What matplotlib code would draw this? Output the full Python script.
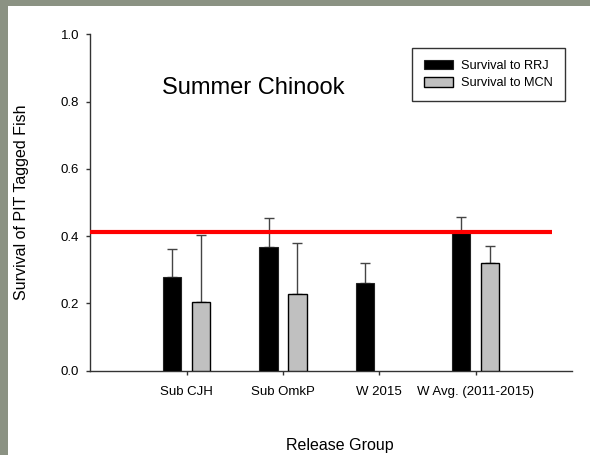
import numpy as np
import matplotlib
matplotlib.use("Agg")
import matplotlib.pyplot as plt
from matplotlib.patches import Rectangle

plt.rcParams["font.family"] = ["Liberation Sans", "DejaVu Sans"]

# Release groups and survival estimates
groups = ["Sub CJH", "Sub OmkP", "W 2015", "W Avg. (2011-2015)"]
rrj = [0.280, 0.369, 0.261, 0.410]
rrj_err = [0.083, 0.085, 0.058, 0.048]
mcn = [0.204, 0.228, np.nan, 0.320]
mcn_err = [0.198, 0.152, np.nan, 0.050]
reference_level = 0.413
y_ticks = [0.0, 0.2, 0.4, 0.6, 0.8, 1.0]

fig = plt.figure(figsize=(5.9, 4.55), dpi=100)
fig.patch.set_facecolor("white")

# slide frame strips along the top and left edges
frame_col = "#8b9283"
fig.patches.append(Rectangle((0, 0), 8 / 590, 1, transform=fig.transFigure,
                             facecolor=frame_col, edgecolor="none", zorder=0))
fig.patches.append(Rectangle((0, 1 - 6 / 455), 1, 6 / 455, transform=fig.transFigure,
                             facecolor=frame_col, edgecolor="none", zorder=0))

ax = fig.add_axes([0.153, 0.1853, 0.8165, 0.7393])
ax.set_facecolor("white")

x = np.arange(1, len(groups) + 1)
width = 0.19
off = 0.15

b1 = ax.bar(x - off, rrj, width, color="black", edgecolor="#222222",
            linewidth=0.8, zorder=3, label="Survival to RRJ")
b2 = ax.bar(x + off, mcn, width, color="#c0c0c0", edgecolor="black",
            linewidth=1.0, zorder=3, label="Survival to MCN")

err_style = dict(fmt="none", ecolor="#444444", elinewidth=1.0, capsize=3.6,
                 capthick=1.0, zorder=2)
ax.errorbar(x - off, rrj, yerr=[np.zeros(len(rrj)), rrj_err], **err_style)
ax.errorbar(x + off, mcn, yerr=[np.zeros(len(mcn)), mcn_err], **err_style)

ax.plot([0, 4.79], [reference_level, reference_level], color="#ff0000",
        linewidth=3.0, solid_capstyle="butt", zorder=4)

ax.set_xlim(0, 5)
ax.set_ylim(0, 1.0)
ax.set_xticks(x)
ax.set_xticklabels(groups, fontsize=9.5)
ax.set_yticks(y_ticks)
ax.set_yticklabels([f"{v:.1f}" for v in y_ticks], fontsize=9.5)

for side in ("top", "right"):
    ax.spines[side].set_visible(False)
for side in ("left", "bottom"):
    ax.spines[side].set_color("#333333")
    ax.spines[side].set_linewidth(1.0)
ax.tick_params(axis="both", direction="out", length=3, width=1.0,
               color="#333333", labelcolor="black")
ax.tick_params(axis="x", pad=8)
ax.tick_params(axis="y", pad=5)

ax.text(0.148, 0.822, "Summer Chinook", transform=ax.transAxes,
        fontsize=17, va="baseline", ha="left")

leg = ax.legend(handles=[b1, b2], loc="upper left",
                bbox_to_anchor=(0.667, 0.96), frameon=True, fancybox=False,
                edgecolor="black", fontsize=9.2, handlelength=2.3,
                handleheight=0.75, handletextpad=0.6, borderpad=0.95,
                labelspacing=0.4, borderaxespad=0)
leg.get_frame().set_linewidth(1.0)

fig.text(0.576, 0.020, "Release Group", fontsize=11.5, ha="center", va="center")
fig.text(0.0364, 0.555, "Survival of PIT Tagged Fish", fontsize=11.5,
         rotation=90, ha="center", va="center")

fig.savefig("out.png", dpi=100)
